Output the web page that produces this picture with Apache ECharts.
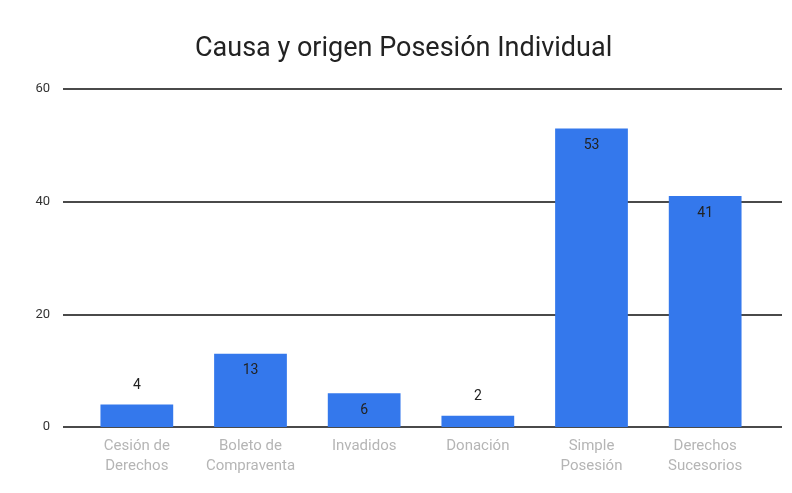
<!DOCTYPE html>
<html lang="es">
<head>
    <meta charset="UTF-8">
    <title>Causa y origen Posesión Individual</title>
    <script src="https://cdn.jsdelivr.net/npm/echarts@6/dist/echarts.min.js"></script>
    <style>
        html, body { margin: 0; padding: 0; background: #fff; }
    </style>
</head>
<body>
<div id="main" style="width: 792px;height:493px;"></div>
<script>
    var categorias = ['Cesión de\nDerechos', 'Boleto de\nCompraventa', 'Invadidos', 'Donación', 'Simple\nPosesión', 'Derechos\nSucesorios'];
    var cantidades = [4, 13, 6, 2, 53, 41];
    var ticksY = [0, 20, 40, 60];

    // etiquetas chicas van arriba de la barra, las grandes adentro
    var datos = [];
    for (var i = 0; i < cantidades.length; i++) {
        var v = cantidades[i];
        datos.push({
            value: v,
            label: v < 5 ? { position: 'top', distance: 12 } : (v < 10 ? { position: 'inside' } : { position: 'insideTop', distance: 10 })
        });
    }

    var myChart = echarts.init(document.getElementById('main'));
    var option = {
        animation: false,
        backgroundColor: '#fff',
        textStyle: { fontFamily: 'Roboto' },
        title: {
            text: 'Causa y origen Posesión Individual',
            left: 190,
            top: 31,
            textStyle: { fontFamily: 'Roboto', fontSize: 27, fontWeight: 'normal', color: '#222' }
        },
        grid: [
            { left: 63, right: 10, top: 89, bottom: 66 },
            { left: 80, right: 30, top: 89, bottom: 66 }
        ],
        xAxis: [
            { gridIndex: 0, type: 'category', data: categorias, show: false },
            {
                gridIndex: 1,
                type: 'category',
                data: categorias,
                axisLine: { show: false },
                axisTick: { show: false },
                axisLabel: { color: '#b5b5b5', fontSize: 15, lineHeight: 20, margin: 9, interval: 0 }
            }
        ],
        yAxis: [
            {
                gridIndex: 0,
                type: 'value',
                min: ticksY[0],
                max: ticksY[ticksY.length - 1],
                interval: 20,
                axisLine: { show: false },
                axisTick: { show: false },
                axisLabel: { color: '#333', fontSize: 13, margin: 13 },
                splitLine: { lineStyle: { color: '#4a4a4a', width: 2 } }
            },
            {
                gridIndex: 1,
                type: 'value',
                min: ticksY[0],
                max: ticksY[ticksY.length - 1],
                interval: 20,
                show: false
            }
        ],
        series: [
            {
                type: 'bar',
                xAxisIndex: 1,
                yAxisIndex: 1,
                data: datos,
                barCategoryGap: '36%',
                itemStyle: { color: '#3478ec' },
                label: { show: true, color: '#222', fontSize: 14 }
            }
        ]
    };
    myChart.setOption(option);
</script>
</body>
</html>
